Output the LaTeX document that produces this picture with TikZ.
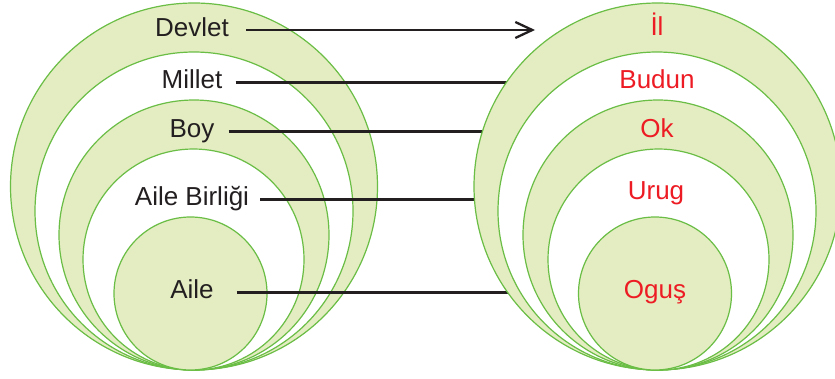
\documentclass[tikz,border=0pt]{standalone}
\usepackage{fontspec}
\setmainfont{Liberation Sans}
\usetikzlibrary{arrows.meta}

\definecolor{leaf}{RGB}{227,237,193}
\definecolor{rim}{RGB}{106,189,69}
\definecolor{redtext}{RGB}{237,28,36}
\definecolor{ink}{RGB}{35,31,32}

\begin{document}
\begin{tikzpicture}[ x=1pt, y=-1pt, >={Straight Barb[length=17pt,width=16pt]},
        ring/.style={ circle, draw=rim, line width=1.2pt, inner sep=0pt },
        term/.style={ anchor=base, inner sep=0pt,
          font=\fontsize{26}{30}\selectfont, text=ink },
        turk/.style={ term, text=redtext },
        link/.style={ draw=ink, line width=2.3pt } ]
        \clip (0,0) rectangle (835,378);

        % left side
        \foreach \n/\x/\r/\c in {devletC/194/183.5/leaf,
          milletC/194/159/white, boyC/194/135/leaf,
          birlikC/193.5/110.5/white, aileC/190.5/76.5/leaf}
        \node[ring,fill=\c,minimum size=2*\r] (\n) at (\x,370-\r) {};

        \foreach \n/\y/\t in {devlet/36/Devlet,millet/88/Millet,
          boy/137/Boy,birlik/205/Aile Birliği,aile/298/Aile}
        \node[term] (\n) at (192,\y) {\t};

        \coordinate (tip) at (535,0);
        \coordinate (axis) at (657,0);

        \draw[link,->] ([xshift=17pt,yshift=6pt]devlet.base east) --
        ([yshift=6pt]devlet.base east -| tip);
        \foreach \n/\g in {millet/13,boy/14,birlik/11,aile/23}
        \draw[link] ([xshift=\g pt,yshift=5.5pt]\n.base east) --
        ([yshift=5.5pt]\n.base east -| axis);

        % right side
        \foreach \n/\x/\r/\c in {ilC/657.5/183.5/leaf,
          budunC/657/159/white, okC/658/135/leaf,
          urugC/658.5/110.5/white, ogusC/655/76.5/leaf}
        \node[ring,fill=\c,minimum size=2*\r] (\n) at (\x,370-\r) {};

        \foreach \n/\x/\y/\t in {il/657/35/İl,budun/657/88/Budun,
          ok/657/137/Ok,urug/656/199/Urug,ogus/655/298/Oguş}
        \node[turk] (\n) at (\x,\y) {\t};
      \end{tikzpicture}
\end{document}
